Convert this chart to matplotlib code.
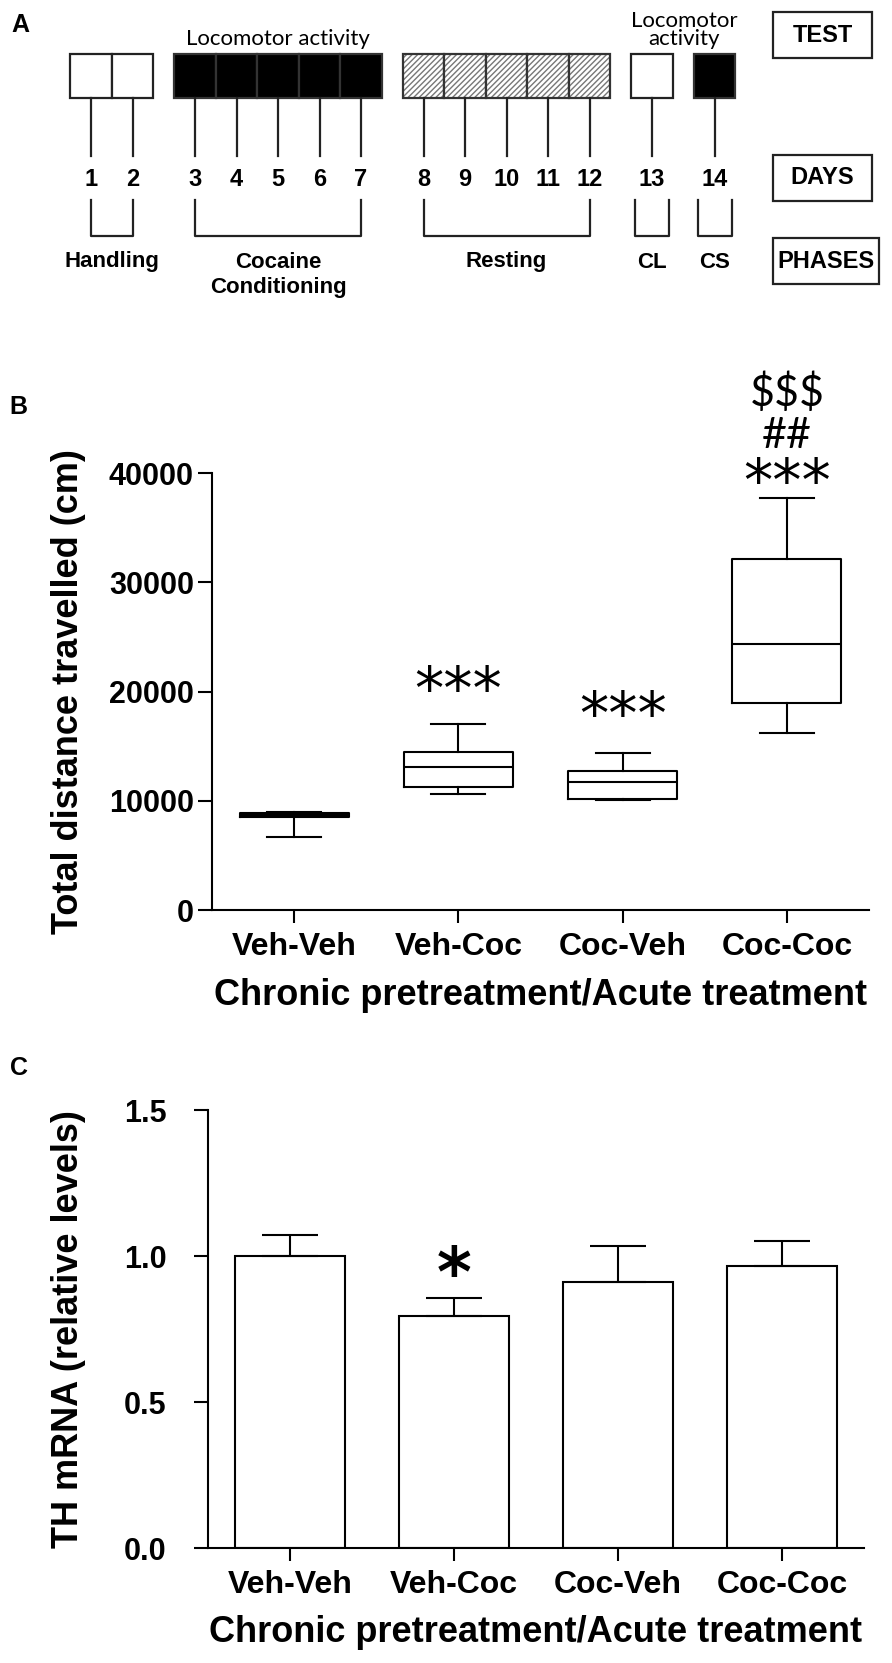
import matplotlib
matplotlib.use("Agg")
import matplotlib.pyplot as plt
from matplotlib.patches import Rectangle

plt.rcParams['font.family'] = ['Liberation Sans', 'DejaVu Sans']

# ---- data ----
days = list(range(1, 15))
day_group = [0, 0, 1, 1, 1, 1, 1, 2, 2, 2, 2, 2, 3, 4]
day_fill = ['white', 'white', 'black', 'black', 'black', 'black', 'black',
            'hatch', 'hatch', 'hatch', 'hatch', 'hatch', 'white', 'black']
phase_names = ['Handling', 'Cocaine\nConditioning', 'Resting', 'CL', 'CS']
phase_start = [1, 3, 8, 13, 14]
phase_end = [2, 7, 12, 13, 14]
row_labels = ['TEST', 'DAYS', 'PHASES']

groups = ['Veh-Veh', 'Veh-Coc', 'Coc-Veh', 'Coc-Coc']
dist_whislo = [6700, 10620, 10070, 16200]
dist_q1 = [8480, 11260, 10160, 18950]
dist_med = [8700, 13090, 11720, 24350]
dist_q3 = [8840, 14460, 12720, 32130]
dist_whishi = [8970, 17030, 14370, 37710]
# significance marks above each box (centre of the mark, in cm units)
dist_marks = [[], ['***'], ['***'], ['***', '##', '$$$']]
dist_mark_y = [[], [21050], [18760], [40090, 43390, 47320]]

th_mean = [1.0, 0.795, 0.911, 0.966]
th_err = [0.073, 0.061, 0.123, 0.085]
th_marks = ['', '*', '', '']
th_mark_y = [0, 0.978, 0, 0]

W, H = 892, 1663
fig = plt.figure(figsize=(W / 100, H / 100), dpi=100)


def rect(l, t, r, b):
    return [l / W, 1 - b / H, (r - l) / W, (b - t) / H]


def star_text(ax, x, yc, s, size, px_per_unit, weight='normal'):
    # DejaVu asterisks sit high in the em box: shift baseline so the
    # glyph is centred on yc
    em = size * 100 / 72
    ax.text(x, yc - 0.5 * em / px_per_unit, s, ha='center', va='baseline',
            fontsize=size, family='DejaVu Sans', fontweight=weight,
            clip_on=False)


# ---- panel A: protocol timeline ----
axA = fig.add_axes([0, 1 - 300 / H, 1, 300 / H])
axA.set_xlim(0, W)
axA.set_ylim(300, 0)
axA.axis('off')

step = 41.5
xday = {d: 91 + step * (d - 1) + 21 * g for d, g in zip(days, day_group)}
lc = '#222222'
for d, f in zip(days, day_fill):
    x0 = xday[d] - step / 2
    if f == 'hatch':
        axA.add_patch(Rectangle((x0, 54), step, 44, facecolor='white',
                                edgecolor='#777777', hatch='//////', lw=0))
        axA.add_patch(Rectangle((x0, 54), step, 44, facecolor='none',
                                edgecolor='#333333', lw=1.6))
    elif f == 'black':
        axA.add_patch(Rectangle((x0, 54), step, 44, facecolor='black',
                                edgecolor='#333333', lw=1.6))
    else:
        axA.add_patch(Rectangle((x0, 54), step, 44, facecolor='white',
                                edgecolor=lc, lw=1.6))
    axA.plot([xday[d], xday[d]], [98, 156], color=lc, lw=1.6)
    axA.text(xday[d], 180, str(d), ha='center', va='center',
             fontsize=17, fontweight='bold')

for name, s, e in zip(phase_names, phase_start, phase_end):
    if s == e:
        xl, xr = xday[s] - 17, xday[s] + 17
    else:
        xl, xr = xday[s], xday[e]
    axA.plot([xl, xl, xr, xr], [200, 236, 236, 200], color=lc, lw=1.6)
    lines = name.split('\n')
    for i, ln in enumerate(lines):
        axA.text((xl + xr) / 2, 262 + 25 * i, ln, ha='center', va='center',
                 fontsize=16, fontweight='bold')

axA.text((xday[3] + xday[7]) / 2, 39, 'Locomotor activity', ha='center',
         va='center', fontsize=16, family='Lato')
axA.text(xday[13] + 32, 21, 'Locomotor', ha='center', va='center',
         fontsize=16, family='Lato')
axA.text(xday[13] + 32, 39, 'activity', ha='center', va='center',
         fontsize=16, family='Lato')

box_tops = [12, 155, 238]
box_right = [872, 872, 879]
for lab, t, r in zip(row_labels, box_tops, box_right):
    axA.add_patch(Rectangle((773, t), r - 773, 46, facecolor='white',
                            edgecolor=lc, lw=1.6))
    axA.text((773 + r) / 2, t + 23, lab, ha='center', va='center',
             fontsize=17, fontweight='bold')

for lab, x, y in zip(['A', 'B', 'C'], [20, 18, 19], [25, 407, 1068]):
    fig.text(x / W, 1 - y / H, lab, ha='center', va='center',
             fontsize=18, fontweight='bold')


def style_axis(ax, ylabel):
    for s in ['top', 'right']:
        ax.spines[s].set_visible(False)
    for s in ['left', 'bottom']:
        ax.spines[s].set_linewidth(1.5)
    ax.set_xlim(-0.5, 3.5)
    ax.set_xticks(range(len(groups)))
    ax.set_xticklabels(groups, fontsize=23, fontweight='bold')
    ax.tick_params(axis='x', length=9.5, width=1.5, pad=6)
    ax.tick_params(axis='y', length=10, width=1.5)
    for t in ax.get_yticklabels():
        t.set_fontsize(22)
        t.set_fontweight('bold')
    ax.set_xlabel('Chronic pretreatment/Acute treatment', fontsize=26,
                  fontweight='bold', va='center')
    ax.set_ylabel(ylabel, fontsize=26, fontweight='bold', va='center')


# ---- panel B: box plot ----
axB = fig.add_axes(rect(212, 473, 869, 910))
stats = []
for i in range(len(groups)):
    stats.append(dict(whislo=dist_whislo[i], q1=dist_q1[i], med=dist_med[i],
                      q3=dist_q3[i], whishi=dist_whishi[i], fliers=[]))
lp = dict(color='black', lw=1.5)
axB.bxp(stats, positions=range(len(groups)), widths=0.665, capwidths=0.33,
        showfliers=False, boxprops=lp, whiskerprops=lp, capprops=lp,
        medianprops=lp)
axB.set_ylim(0, 40000)
axB.set_yticks([0, 10000, 20000, 30000, 40000])
axB.tick_params(axis='y', pad=3)
style_axis(axB, 'Total distance travelled (cm)')
axB.xaxis.set_label_coords(0.5, -(995 - 910) / 437)
axB.yaxis.set_label_coords((69 - 212) / 657, 0.5)
pxB = 437 / 40000
for i in range(len(groups)):
    for m, y in zip(dist_marks[i], dist_mark_y[i]):
        if m.startswith('*'):
            star_text(axB, i, y, m, 42, pxB)
        else:
            axB.text(i, y, m, ha='center', va='center', fontsize=31,
                     family='Lato', clip_on=False)

# ---- panel C: bar chart ----
axC = fig.add_axes(rect(208, 1110, 864, 1548))
xs = list(range(len(groups)))
axC.bar(xs, th_mean, width=0.665, facecolor='white', edgecolor='black',
        lw=1.5)
axC.errorbar(xs, th_mean, yerr=[[0] * 4, th_err], fmt='none', ecolor='black',
             elinewidth=1.5, capsize=20, capthick=1.5)
axC.set_ylim(0, 1.5)
axC.set_yticks([0.0, 0.5, 1.0, 1.5])
axC.set_yticklabels(['0.0', '0.5', '1.0', '1.5'])
axC.tick_params(axis='y', pad=20)
style_axis(axC, 'TH mRNA (relative levels)')
axC.xaxis.set_label_coords(0.5, -(1632 - 1548) / 438)
axC.yaxis.set_label_coords((69 - 208) / 656, 0.5)
pxC = 438 / 1.5
for i, m in enumerate(th_marks):
    if m:
        star_text(axC, i, th_mark_y[i], m, 48, pxC, weight='bold')

fig.savefig('out.png', dpi=100)
